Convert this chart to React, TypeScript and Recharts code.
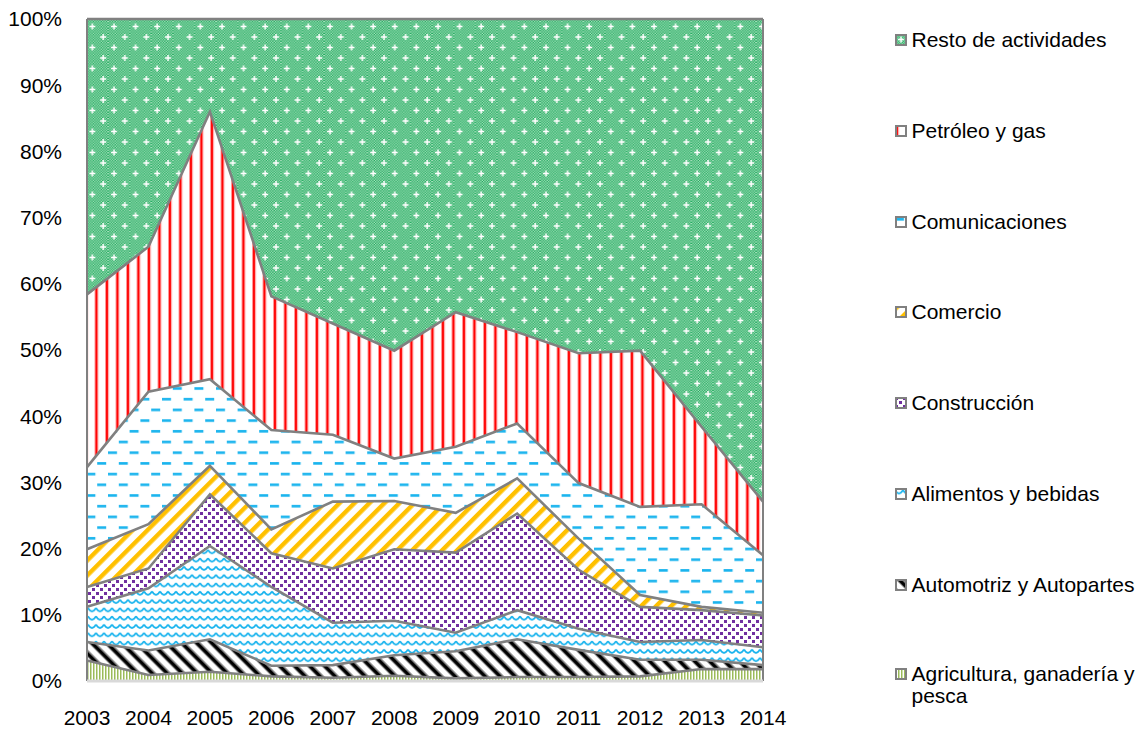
import { AreaChart, Area, XAxis, YAxis, ReferenceLine } from "recharts";

const years = ["2003", "2004", "2005", "2006", "2007", "2008", "2009", "2010", "2011", "2012", "2013", "2014"];

// shares in % (bottom series first)
const agricultura = [3.1, 0.9, 1.4, 0.7, 0.5, 0.8, 0.4, 0.6, 0.6, 0.7, 1.8, 1.8];
const automotriz = [2.8, 3.7, 4.9, 1.6, 1.9, 3.1, 4.1, 5.7, 4.1, 2.5, 1.4, 0.6];
const alimentos = [5.3, 9.4, 14.1, 11.9, 6.4, 5.2, 2.8, 4.4, 3.2, 2.7, 3.0, 2.7];
const construccion = [3.0, 3.0, 7.8, 5.1, 8.2, 10.8, 12.1, 14.6, 8.9, 5.3, 4.5, 4.8];
const comercio = [5.7, 6.7, 4.3, 3.6, 10.1, 7.3, 6.0, 5.3, 4.7, 1.8, 0.5, 0.4];
const comunicaciones = [12.4, 20.0, 13.1, 15.0, 10.1, 6.4, 10.0, 8.3, 8.4, 13.3, 15.5, 8.7];
const petroleo = [26.1, 21.9, 40.4, 20.2, 16.8, 16.3, 20.3, 13.8, 19.6, 23.6, 11.7, 8.1];
const resto = [41.6, 34.4, 14.0, 41.9, 46.0, 50.1, 44.3, 47.3, 50.5, 50.1, 61.6, 72.9];

const yTicks = [0, 0.1, 0.2, 0.3, 0.4, 0.5, 0.6, 0.7, 0.8, 0.9, 1];

const series = [
  { key: "agricultura", name: "Agricultura, ganadería y pesca", values: agricultura, pattern: "pAgri" },
  { key: "automotriz", name: "Automotriz y Autopartes", values: automotriz, pattern: "pAuto" },
  { key: "alimentos", name: "Alimentos y bebidas", values: alimentos, pattern: "pAlim" },
  { key: "construccion", name: "Construcción", values: construccion, pattern: "pCons" },
  { key: "comercio", name: "Comercio", values: comercio, pattern: "pCome" },
  { key: "comunicaciones", name: "Comunicaciones", values: comunicaciones, pattern: "pComu" },
  { key: "petroleo", name: "Petróleo y gas", values: petroleo, pattern: "pPetro" },
  { key: "resto", name: "Resto de actividades", values: resto, pattern: "pResto" },
];

const data = years.map((year, i) => {
  const row: Record<string, string | number> = { year };
  series.forEach((s) => (row[s.key] = s.values[i]));
  return row;
});

const FONT = "'Liberation Sans', Arial, sans-serif";

function Patterns() {
  return (
    <defs>
      <pattern id="pRestoDots" patternUnits="userSpaceOnUse" width="2.6" height="2.6">
        <rect width="2.6" height="2.6" fill="#16a856" />
        <rect x="0" y="0" width="1.3" height="1.3" fill="#b2e3c5" />
        <rect x="1.3" y="1.3" width="1.3" height="1.3" fill="#b2e3c5" />
      </pattern>
      <pattern id="pResto" patternUnits="userSpaceOnUse" width="21.6" height="21">
        <rect width="21.6" height="21" fill="url(#pRestoDots)" />
        <path d="M3,5.5h6M6,2.5v6" stroke="#fff" strokeWidth="1.5" />
        <path d="M13.8,16h6M16.8,13v6" stroke="#fff" strokeWidth="1.5" />
      </pattern>
      <pattern id="pPetro" patternUnits="userSpaceOnUse" width="10.5" height="10">
        <rect width="10.5" height="10" fill="#fff" />
        <rect x="0" width="1" height="10" fill="#ff9a9a" />
        <rect x="1" width="2" height="10" fill="#ff0000" />
        <rect x="3" width="1" height="10" fill="#ff9a9a" />
      </pattern>
      <pattern id="pComu" patternUnits="userSpaceOnUse" width="21.6" height="21.4">
        <rect width="21.6" height="21.4" fill="#fff" />
        <rect x="0" y="2" width="9" height="2.6" fill="#1ab4ee" />
        <rect x="10.8" y="12.7" width="9" height="2.6" fill="#1ab4ee" />
      </pattern>
      <pattern id="pCome" patternUnits="userSpaceOnUse" width="10.6" height="10.6" patternTransform="rotate(45)">
        <rect width="10.6" height="10.6" fill="#fff" />
        <rect x="0" width="4.4" height="10.6" fill="#ffc000" />
      </pattern>
      <pattern id="pCons" patternUnits="userSpaceOnUse" width="8" height="8">
        <rect width="8" height="8" fill="#fff" />
        <rect x="0" y="0" width="3" height="3" fill="#7030a0" />
        <rect x="4" y="4" width="3" height="3" fill="#7030a0" />
      </pattern>
      <pattern id="pAlim" patternUnits="userSpaceOnUse" width="8" height="8.3">
        <rect width="8" height="8.3" fill="#fff" />
        <path d="M0,2 Q2,5.5 4,5.5 Q6,5.5 8,2" fill="none" stroke="#1ab4ee" strokeWidth="1.8" />
      </pattern>
      <pattern id="pAuto" patternUnits="userSpaceOnUse" width="10.6" height="10.6" patternTransform="rotate(-45)">
        <rect width="10.6" height="10.6" fill="#fff" />
        <rect x="0" width="1" height="10.6" fill="#888" />
        <rect x="1" width="3.5" height="10.6" fill="#000" />
        <rect x="4.5" width="1" height="10.6" fill="#888" />
      </pattern>
      <pattern id="pAgri" patternUnits="userSpaceOnUse" width="3" height="3">
        <rect width="3" height="3" fill="#fff" />
        <rect x="0" width="1.5" height="3" fill="#9bbb59" />
      </pattern>
    </defs>
  );
}

function LegendBox() {
  const tops = [40, 131, 222, 312, 403, 494, 585, 674];
  const items = [...series].reverse();
  return (
    <div style={{ position: "absolute", left: 0, top: 0, fontFamily: FONT, fontSize: 21, color: "#000" }}>
      {items.map((s, i) => (
        <div key={s.key} style={{ position: "absolute", left: 895, top: tops[i] - 11.5, width: 245, display: "flex", alignItems: "flex-start" }}>
          <svg width="12" height="12" style={{ marginTop: 5.5, flex: "none" }}>
            <rect x="1" y="1" width="10" height="10" fill={`url(#${s.pattern})`} stroke="#808080" strokeWidth="2" />
          </svg>
          <span style={{ marginLeft: 4.5, lineHeight: "22px" }}>{s.name}</span>
        </div>
      ))}
    </div>
  );
}

export default function App() {
  return (
    <div style={{ position: "absolute", left: 0, top: 0, width: 1145, height: 729, background: "#fff" }}>
      <AreaChart
        width={1145}
        height={729}
        data={data}
        stackOffset="expand"
        margin={{ top: 19, right: 382, bottom: 0, left: 0 }}
      >
        <Patterns />
        <XAxis
          dataKey="year"
          height={48}
          tickLine={false}
          tickSize={0}
          tickMargin={29}
          axisLine={{ stroke: "#d9d9d9", strokeWidth: 3 }}
          tick={{ fill: "#000", fontSize: 21, fontFamily: FONT }}
          interval={0}
        />
        <YAxis
          width={87}
          domain={[0, 1]}
          ticks={yTicks}
          tickLine={false}
          tickSize={0}
          tickMargin={25}
          axisLine={false}
          tick={{ fill: "#000", fontSize: 21, fontFamily: FONT }}
          tickFormatter={(v: number) => `${Math.round(v * 100)}%`}
        />
        {series.map((s) => (
          <Area
            key={s.key}
            type="linear"
            dataKey={s.key}
            name={s.name}
            stackId="fill"
            fill={`url(#${s.pattern})`}
            fillOpacity={1}
            stroke="none"
            isAnimationActive={false}
          />
        ))}
        {/* outlines drawn on top so the next fill does not cover half of them */}
        {series.map((s) => (
          <Area
            key={`${s.key}-line`}
            type="linear"
            dataKey={s.key}
            stackId="line"
            fill="none"
            stroke="#808080"
            strokeWidth={2.6}
            legendType="none"
            isAnimationActive={false}
          />
        ))}
        <ReferenceLine x="2003" stroke="#808080" strokeWidth={2} />
        <ReferenceLine x="2014" stroke="#808080" strokeWidth={2} />
        <ReferenceLine y={1} stroke="#808080" strokeWidth={2} />
      </AreaChart>
      <LegendBox />
    </div>
  );
}
